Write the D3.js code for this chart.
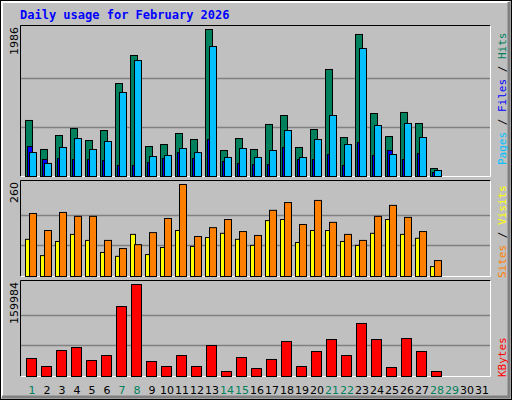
<!DOCTYPE html>
<html><head><meta charset="utf-8">
<script src="https://cdn.jsdelivr.net/npm/d3@7"></script>
<style>body{margin:0;background:#fff}</style></head>
<body><svg id="c" width="512" height="400"></svg>
<script>
const days = d3.range(1, 32);
const weekend = [1,7,8,14,15,21,22,28,29];
const hits  = [757,365,554,649,486,621,1256,1635,405,432,581,500,1986,351,513,365,703,824,392,635,1446,527,1919,851,540,865,716,108];
const files = [324,176,392,513,365,473,1135,1567,270,284,378,324,1756,257,378,257,351,621,257,500,824,432,1729,689,297,716,527,81];
const pages = [405,230,243,230,230,216,149,149,189,243,324,243,500,203,176,162,162,392,230,230,297,149,459,284,351,230,311,54];
const visits= [178,130,181,170,170,102,79,90,124,164,260,113,138,161,127,116,187,209,147,215,153,119,102,170,201,167,127,45];
const sites = [105,59,99,119,102,68,57,119,62,82,130,85,110,122,105,88,158,161,96,130,130,99,88,122,161,119,108,28];
const kbytes= [31300,17400,45200,50400,27800,36500,121700,159984,26100,17400,36500,17400,53900,8700,33000,13900,29600,60900,17400,43500,64300,36500,92200,64300,15600,66100,43500,8700];
const maxHits = 1986, maxVisits = 260, maxKB = 159984;

const svg = d3.select("#c");
const mono = "'DejaVu Sans Mono', monospace";
// background & bevel
svg.append("rect").attr("x",0).attr("y",0).attr("width",512).attr("height",400).attr("fill","#c0c0c0");
svg.append("rect").attr("x",0.5).attr("y",0.5).attr("width",511).attr("height",399).attr("fill","none").attr("stroke","#000");
svg.append("path").attr("d","M2,397V2H509").attr("stroke","#fff").attr("stroke-width",2).attr("fill","none");
svg.append("path").attr("d","M2,397H509V2").attr("stroke","#808080").attr("stroke-width",3).attr("fill","none");
svg.append("text").attr("x",20).attr("y",19).attr("fill","#0000ff").attr("font-family",mono)
  .attr("font-weight","bold").attr("font-size",12).text("Daily usage for February 2026");

const x = d3.scaleBand().domain(days).range([25,490]).paddingInner(0);
const bw = x.step();

function panel(top, bottom, max, label){
  svg.append("rect").attr("x",20.5).attr("y",top+0.5).attr("width",470).attr("height",bottom-top).attr("fill","#c0c0c0");
  const y = d3.scaleLinear().domain([0,max]).range([bottom, top+4]);
  [1/3,2/3].forEach(f=>{
    const gy = Math.round(bottom-(bottom-top-4)*f)+0.5;
    svg.append("line").attr("x1",21).attr("x2",490).attr("y1",gy).attr("y2",gy).attr("stroke","#808080").attr("stroke-width",1.5);
  });
  svg.append("path").attr("d",`M20.5,${bottom+0.5}V${top+0.5}H490.5`).attr("stroke","#000").attr("fill","none");
  svg.append("path").attr("d",`M20.5,${bottom+0.5}H490.5V${top+0.5}`).attr("stroke","#fff").attr("fill","none");
  svg.append("text").attr("transform",`translate(18,${top+2}) rotate(-90)`).attr("text-anchor","end")
    .attr("font-family","'DejaVu Sans',sans-serif").attr("font-size",11).text(label);
  return y;
}
function bars(data, y, off, w, color){
  svg.append("g").selectAll("rect").data(data).join("rect")
    .attr("x",(d,i)=>x(i+1)+off+0.5).attr("width",w)
    .attr("y",d=>y(d)+0.5).attr("height",d=>y(0)-y(d))
    .attr("fill",color).attr("stroke","#000").attr("stroke-width",1);
}
const y1 = panel(25,176,maxHits,String(maxHits));
bars(hits,y1,0,7,"#00805c");
bars(pages,y1,2,5,"#0000ff");
bars(files,y1,4,7,"#00c0ff");
const y2 = panel(180,276,maxVisits,String(maxVisits));
bars(sites,y2,0,5,"#ffff00");
bars(visits,y2,4,7,"#ff8000");
const y3 = panel(280,376,maxKB,String(maxKB));
bars(kbytes,y3,1,10,"#ff0000");

// x labels
svg.append("g").selectAll("text").data(days).join("text")
  .attr("x",d=>x(d)+bw/2-0.5).attr("y",394).attr("text-anchor","middle")
  .attr("font-family","'DejaVu Sans',sans-serif").attr("font-size",11)
  .attr("fill",d=>weekend.includes(d)?"#00805c":"#000").text(d=>d);

// right legends
function legend(yBottom, parts){
  const t = svg.append("text").attr("transform",`translate(506,${yBottom}) rotate(-90)`)
    .attr("font-family",mono).attr("font-size",11);
  parts.forEach(p=>t.append("tspan").attr("fill",p[1]).text(p[0]));
}
legend(165,[["Pages","#00c0ff"],[" / ","#000"],["Files","#0000ff"],[" / ","#000"],["Hits","#00805c"]]);
legend(278,[["Sites","#ff8000"],[" / ","#000"],["Visits","#ffff00"]]);
legend(377,[["KBytes","#ff0000"]]);
</script></body></html>
